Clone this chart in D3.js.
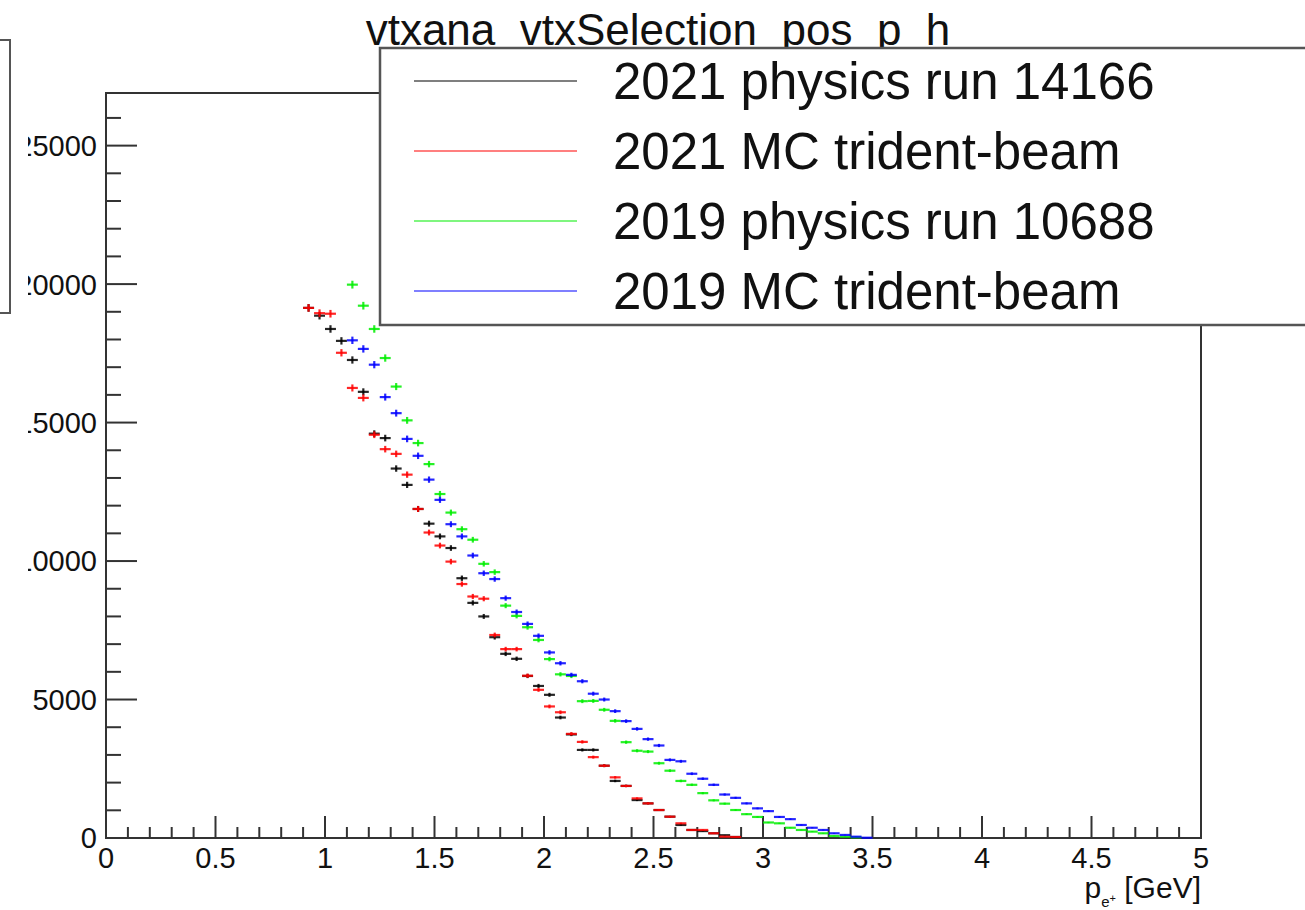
<!DOCTYPE html>
<html>
<head>
<meta charset="utf-8">
<script src="https://cdn.jsdelivr.net/npm/d3@7"></script>
<style>
  html, body { margin: 0; padding: 0; background: #fff; }
  svg { display: block; font-family: "Liberation Sans", Arial, Helvetica, sans-serif; }
</style>
</head>
<body>
<svg id="chart" width="1305" height="910"></svg>
<script>
// ---------------- data ----------------
const chartTitle = "vtxana_vtxSelection_pos_p_h";
const binCenters = [0.925,0.975,1.025,1.075,1.125,1.175,1.225,1.275,1.325,1.375,1.425,1.475,1.525,1.575,1.625,1.675,1.725,1.775,1.825,1.875,1.925,1.975,2.025,2.075,2.125,2.175,2.225,2.275,2.325,2.375,2.425,2.475,2.525,2.575,2.625,2.675,2.725,2.775,2.825,2.875,2.925,2.975,3.025,3.075,3.125,3.175,3.225,3.275,3.325,3.375,3.425,3.475];
const binWidth = 0.05;

const data2021 = [19140,18860,18380,17950,17260,16110,14600,14440,13340,12750,11880,11350,10890,10470,9380,8490,8000,7250,6650,6470,5850,5490,5170,4350,3740,3180,3180,2610,2060,1880,1370,1250,1010,770,470,290,250,170,100,36,null,null,null,null,null,null,null,null,null,null,null,null];
const mc2021 = [19140,18950,18930,17520,16250,15890,14560,14040,13870,13120,11880,11030,10560,9980,9170,8720,8640,7330,6820,6820,5860,5350,4750,4540,3760,3470,2920,2610,2190,1880,1430,1250,1010,770,530,290,290,170,50,36,null,null,null,null,null,null,null,null,null,null,null,null];
const data2019 = [null,null,null,null,19980,19220,18380,17330,16300,15080,14260,13500,12420,11750,11150,10770,9900,9600,8390,8020,7610,7150,6460,5910,5850,4940,4950,4630,4230,3460,3150,3120,2700,2430,2060,1920,1620,1360,1240,1010,860,760,560,530,370,290,230,170,72,47,25,null];
const mc2019 = [null,null,null,null,17970,17660,17090,15920,15340,14410,13800,12940,12210,11330,10890,10200,9560,9350,8660,8160,7730,7300,6700,6310,5890,5660,5210,5000,4580,4220,3940,3570,3340,2820,2770,2320,2140,1920,1570,1450,1250,1070,970,760,680,470,370,290,170,110,47,10];

const seriesNames = ["2021 physics run 14166","2021 MC trident-beam","2019 physics run 10688","2019 MC trident-beam"];
const seriesColors = ["#000000","#ff0000","#00ee00","#0000ff"];
const seriesValues = [data2021, mc2021, data2019, mc2019];

const xMajorTicks = [0,0.5,1,1.5,2,2.5,3,3.5,4,4.5,5];
const xTickLabels = ["0","0.5","1","1.5","2","2.5","3","3.5","4","4.5","5"];
const yMajorTicks = [0,5000,10000,15000,20000,25000];
const yTickLabels = ["0","5000","10000","15000","20000","25000"];
const xDomain = [0,5];
const yDomain = [0,26900];

// ---------------- layout ----------------
const svg = d3.select("#chart");
const L = 106, R = 1201, T = 93, B = 838;
const x = d3.scaleLinear().domain(xDomain).range([L, R]);
const y = d3.scaleLinear().domain(yDomain).range([B, T]);
const axisColor = "#333";

// clip for y labels (left part of the canvas is cut in the original)
svg.append("defs").append("clipPath").attr("id", "ylabclip")
  .append("rect").attr("x", 28).attr("y", 0).attr("width", 1300).attr("height", 910);

// partially visible stats box at far left
svg.append("rect").attr("x", -300).attr("y", 40).attr("width", 310).attr("height", 273)
  .attr("fill", "#fff").attr("stroke", "#555").attr("stroke-width", 2);

// frame
svg.append("rect").attr("x", L).attr("y", T).attr("width", R - L).attr("height", B - T)
  .attr("fill", "#fff").attr("stroke", axisColor).attr("stroke-width", 2);

// x axis ticks (inward)
const xMinor = d3.range(0, 5.0001, 0.1).filter(v => Math.abs(v*2 - Math.round(v*2)) > 1e-6);
const gx = svg.append("g");
gx.selectAll("line.maj").data(xMajorTicks).join("line")
  .attr("x1", d => x(d)).attr("x2", d => x(d)).attr("y1", B).attr("y2", B - 22)
  .attr("stroke", axisColor).attr("stroke-width", 2);
gx.selectAll("line.min").data(xMinor).join("line")
  .attr("x1", d => x(d)).attr("x2", d => x(d)).attr("y1", B).attr("y2", B - 11)
  .attr("stroke", axisColor).attr("stroke-width", 2);
gx.selectAll("text").data(xMajorTicks).join("text")
  .attr("x", d => x(d)).attr("y", 868).attr("text-anchor", "middle")
  .attr("font-size", 29).attr("fill", "#111")
  .text((d, i) => xTickLabels[i]);

// y axis ticks (inward)
const yMinor = d3.range(0, yDomain[1], 1000).filter(v => v % 5000 !== 0);
const gy = svg.append("g");
gy.selectAll("line.maj").data(yMajorTicks).join("line")
  .attr("x1", L).attr("x2", L + 31).attr("y1", d => y(d)).attr("y2", d => y(d))
  .attr("stroke", axisColor).attr("stroke-width", 2);
gy.selectAll("line.min").data(yMinor).join("line")
  .attr("x1", L).attr("x2", L + 15).attr("y1", d => y(d)).attr("y2", d => y(d))
  .attr("stroke", axisColor).attr("stroke-width", 2);
gy.append("g").attr("clip-path", "url(#ylabclip)")
  .selectAll("text").data(yMajorTicks).join("text")
  .attr("x", 97).attr("y", d => y(d)).attr("dy", "0.36em").attr("text-anchor", "end")
  .attr("font-size", 29).attr("fill", "#111")
  .text((d, i) => yTickLabels[i]);

// x axis title
const xt = svg.append("text").attr("x", R).attr("y", 898).attr("text-anchor", "end")
  .attr("font-size", 30).attr("fill", "#111");
xt.append("tspan").text("p");
xt.append("tspan").attr("font-size", 15).attr("dy", 9).text("e");
xt.append("tspan").attr("font-size", 11).attr("dy", -5).text("+");
xt.append("tspan").attr("dy", -4).text(" [GeV]");

// data series: bin-width horizontal bars + sqrt(N) vertical error bars
seriesValues.forEach((vals, si) => {
  const pts = binCenters.map((c, i) => ({c, v: vals[i]})).filter(p => p.v !== null);
  const g = svg.append("g").attr("stroke", seriesColors[si]).attr("stroke-width", 2.2).attr("stroke-opacity", 0.85);
  g.selectAll("line.h").data(pts).join("line")
    .attr("x1", p => x(p.c - binWidth / 2)).attr("x2", p => x(p.c + binWidth / 2))
    .attr("y1", p => y(p.v)).attr("y2", p => y(p.v));
  g.selectAll("line.v").data(pts).join("line")
    .attr("x1", p => x(p.c)).attr("x2", p => x(p.c))
    .attr("y1", p => y(p.v + Math.sqrt(p.v))).attr("y2", p => y(Math.max(0, p.v - Math.sqrt(p.v))));
});

// title (drawn below legend)
svg.append("text").attr("x", 658).attr("y", 45).attr("text-anchor", "middle")
  .attr("font-size", 44).attr("fill", "#111").text(chartTitle);

// legend
const lg = svg.append("g");
lg.append("rect").attr("x", 380).attr("y", 48).attr("width", 1000).attr("height", 277)
  .attr("fill", "#fff").attr("stroke", "#555").attr("stroke-width", 2.5);
const rowY = [81, 151, 221, 291];
seriesNames.forEach((name, i) => {
  lg.append("line").attr("x1", 414).attr("x2", 577).attr("y1", rowY[i]).attr("y2", rowY[i])
    .attr("stroke", seriesColors[i]).attr("stroke-width", 2).attr("stroke-opacity", 0.5);
  lg.append("text").attr("x", 613).attr("y", rowY[i]).attr("dy", "0.36em")
    .attr("font-size", 51).attr("fill", "#111").text(name);
});
</script>
</body>
</html>
